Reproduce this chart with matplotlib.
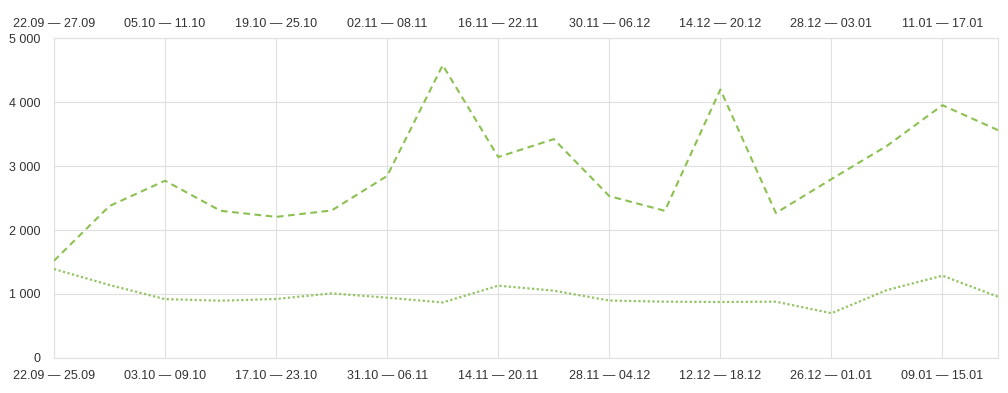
import matplotlib
matplotlib.use("Agg")
import matplotlib.pyplot as plt

top_labels = ["22.09 — 27.09", "05.10 — 11.10", "19.10 — 25.10", "02.11 — 08.11",
              "16.11 — 22.11", "30.11 — 06.12", "14.12 — 20.12", "28.12 — 03.01",
              "11.01 — 17.01"]
bottom_labels = ["22.09 — 25.09", "03.10 — 09.10", "17.10 — 23.10", "31.10 — 06.11",
                 "14.11 — 20.11", "28.11 — 04.12", "12.12 — 18.12", "26.12 — 01.01",
                 "09.01 — 15.01"]

series_current = [1520, 2375, 2770, 2300, 2205, 2305, 2845, 4575, 3140, 3420,
                  2530, 2300, 4195, 2265, 2795, 3315, 3950, 3560]
series_previous = [1390, 1140, 920, 895, 922, 1010, 942, 868, 1130, 1052,
                   898, 880, 875, 880, 700, 1062, 1286, 958]

y_ticks = [0, 1000, 2000, 3000, 4000, 5000]

plt.rcParams['font.family'] = ['Liberation Sans', 'DejaVu Sans']

fig = plt.figure(figsize=(10.08, 3.93), dpi=100)
ax = fig.add_axes([54/1008, 1-358/393, (998-54)/1008, 320/393])

x = list(range(len(series_current)))
green1 = "#8cc152"
green2 = "#93c462"
ax.plot(x, series_current, color=green1, lw=1.5, dashes=(3.2, 2.2), zorder=3)
ax.plot(x, series_previous, color=green2, lw=1.6, dashes=(1, 1.1), zorder=3)

ax.set_xlim(0, len(x)-1)
ax.set_ylim(0, 5000)

grid_c = "#e0e0e0"
for s in ax.spines.values():
    s.set_color(grid_c)
    s.set_linewidth(0.8)

tick_pos = list(range(0, len(x), 2))
ax.set_xticks(tick_pos)
ax.set_xticklabels(bottom_labels)
ax.set_yticks(y_ticks)
ax.set_yticklabels([f"{v:,}".replace(",", " ") for v in y_ticks])
ax.grid(True, color=grid_c, lw=0.8)
ax.set_axisbelow(True)
ax.tick_params(axis='both', length=0, labelsize=9, colors="#333333")
ax.tick_params(axis='x', pad=8.5)
ax.tick_params(axis='y', pad=10)

secax = ax.secondary_xaxis('top')
secax.set_xticks(tick_pos)
secax.set_xticklabels(top_labels)
secax.tick_params(length=0, labelsize=9, colors="#333333", pad=5.5)
secax.spines['top'].set_visible(False)

fig.savefig("out.png", dpi=100)
